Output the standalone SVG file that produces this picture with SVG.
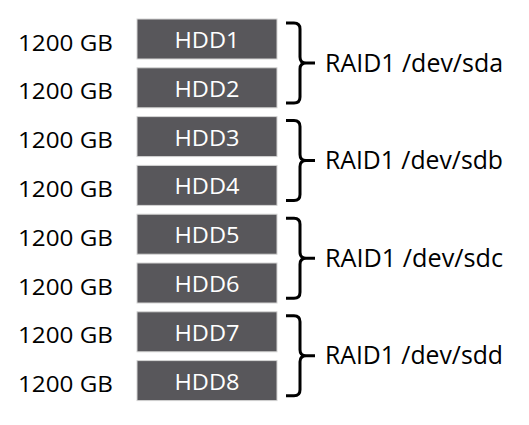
<svg xmlns="http://www.w3.org/2000/svg" width="529" height="425" viewBox="0 0 529 425">
<style>
.cap{font-family:"Open Sans","Liberation Sans",sans-serif;font-size:22.5px;fill:#000}
.hdd rect{fill:#58575b;stroke:#d4d4d4;stroke-width:1}
.hdd text{font-family:"Open Sans","Liberation Sans",sans-serif;font-size:22px;fill:#fff;text-anchor:middle}
.br{fill:none;stroke:#000;stroke-width:3}
.lbl{font-family:"Open Sans","Liberation Sans",sans-serif;font-size:25px;fill:#000}
</style>
<rect width="529" height="425" fill="#fff"/>
<g id="sizes">
<text class="cap" x="18" y="50.5" textLength="95" lengthAdjust="spacingAndGlyphs">1200 GB</text>
<text class="cap" x="18" y="99.3" textLength="95" lengthAdjust="spacingAndGlyphs">1200 GB</text>
<text class="cap" x="18" y="148.1" textLength="95" lengthAdjust="spacingAndGlyphs">1200 GB</text>
<text class="cap" x="18" y="196.9" textLength="95" lengthAdjust="spacingAndGlyphs">1200 GB</text>
<text class="cap" x="18" y="245.7" textLength="95" lengthAdjust="spacingAndGlyphs">1200 GB</text>
<text class="cap" x="18" y="294.5" textLength="95" lengthAdjust="spacingAndGlyphs">1200 GB</text>
<text class="cap" x="18" y="343.3" textLength="95" lengthAdjust="spacingAndGlyphs">1200 GB</text>
<text class="cap" x="18" y="392.1" textLength="95" lengthAdjust="spacingAndGlyphs">1200 GB</text>
</g>
<g id="hdd1" class="hdd"><rect x="137" y="19" width="140" height="40"/><text x="207" y="48" textLength="65" lengthAdjust="spacingAndGlyphs">HDD1</text></g>
<g id="hdd2" class="hdd"><rect x="137" y="67.8" width="140" height="40"/><text x="207" y="96.8" textLength="65" lengthAdjust="spacingAndGlyphs">HDD2</text></g>
<g id="hdd3" class="hdd"><rect x="137" y="116.6" width="140" height="40"/><text x="207" y="145.6" textLength="65" lengthAdjust="spacingAndGlyphs">HDD3</text></g>
<g id="hdd4" class="hdd"><rect x="137" y="165.4" width="140" height="40"/><text x="207" y="194.4" textLength="65" lengthAdjust="spacingAndGlyphs">HDD4</text></g>
<g id="hdd5" class="hdd"><rect x="137" y="214.2" width="140" height="40"/><text x="207" y="243.2" textLength="65" lengthAdjust="spacingAndGlyphs">HDD5</text></g>
<g id="hdd6" class="hdd"><rect x="137" y="263" width="140" height="40"/><text x="207" y="292" textLength="65" lengthAdjust="spacingAndGlyphs">HDD6</text></g>
<g id="hdd7" class="hdd"><rect x="137" y="311.8" width="140" height="40"/><text x="207" y="340.8" textLength="65" lengthAdjust="spacingAndGlyphs">HDD7</text></g>
<g id="hdd8" class="hdd"><rect x="137" y="360.6" width="140" height="40"/><text x="207" y="389.6" textLength="65" lengthAdjust="spacingAndGlyphs">HDD8</text></g>
<g id="connectors">
<path class="br" d="M286,23 H294 Q300,23 300,29 V57 Q300,63 306,63 H315 M306,63 Q300,63 300,69 V97 Q300,103 294,103 H286"/>
<path class="br" d="M286,120.6 H294 Q300,120.6 300,126.6 V154.6 Q300,160.6 306,160.6 H315 M306,160.6 Q300,160.6 300,166.6 V194.6 Q300,200.6 294,200.6 H286"/>
<path class="br" d="M286,218.2 H294 Q300,218.2 300,224.2 V252.2 Q300,258.2 306,258.2 H315 M306,258.2 Q300,258.2 300,264.2 V292.2 Q300,298.2 294,298.2 H286"/>
<path class="br" d="M286,315.8 H294 Q300,315.8 300,321.8 V349.8 Q300,355.8 306,355.8 H315 M306,355.8 Q300,355.8 300,361.8 V389.8 Q300,395.8 294,395.8 H286"/>
</g>
<g id="labels">
<text class="lbl" x="325" y="71.5" textLength="178" lengthAdjust="spacingAndGlyphs">RAID1 /dev/sda</text>
<text class="lbl" x="325" y="169.1" textLength="178" lengthAdjust="spacingAndGlyphs">RAID1 /dev/sdb</text>
<text class="lbl" x="325" y="266.7" textLength="178" lengthAdjust="spacingAndGlyphs">RAID1 /dev/sdc</text>
<text class="lbl" x="325" y="364.3" textLength="178" lengthAdjust="spacingAndGlyphs">RAID1 /dev/sdd</text>
</g>
</svg>
